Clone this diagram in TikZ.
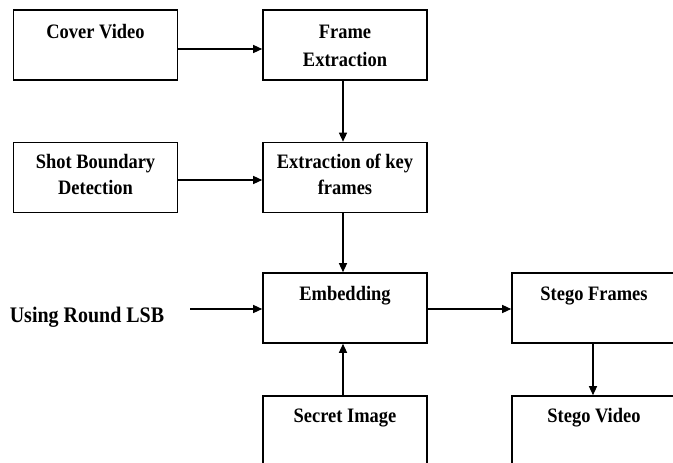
\documentclass[tikz,border=0pt]{standalone}
\usepackage{fontspec}
\setmainfont{Liberation Serif}[FakeStretch=0.9]
\usetikzlibrary{arrows.meta}
\begin{document}
\begin{tikzpicture}[x=1pt,y=-1pt,
  box/.style={draw, line width=1.6pt, minimum width=164pt, minimum height=70pt, inner sep=0pt},
  lbl/.style={anchor=base, inner sep=0pt, font=\fontsize{20.5}{28}\selectfont\bfseries},
  biglbl/.style={anchor=base, inner sep=0pt, font=\fontsize{22.2}{28}\selectfont\bfseries},
  conn/.style={line width=1.3pt, -{Triangle[length=9pt,width=8pt]}}]
\useasboundingbox (0,0) rectangle (673,463);
\fill[white] (0,0) rectangle (673,463);
\clip (0,0) rectangle (673,463);
% boxes
\node[box] (cv)  at (95.5,45)    {};
\node[box] (fe)  at (345,45)     {};
\node[box] (sb)  at (95.5,177.5) {};
\node[box] (ek)  at (345,177.5)  {};
\node[box] (emb) at (345,308)    {};
\node[box] (sf)  at (594,308)    {};
\node[box] (si)  at (345,431)    {};
\node[box] (sv)  at (594,431)    {};
% texts
\node[lbl] (cvt)  at (95.5,38.3)  {Cover Video};
\node[lbl] (fet1) at (345,38.3)   {Frame};
\node[lbl] (fet2) at (345,66.7)   {Extraction};
\node[lbl] (sbt1) at (95.5,168.3) {Shot Boundary};
\node[lbl] (sbt2) at (95.5,194)   {Detection};
\node[lbl] (ekt1) at (345,168.3)  {Extraction of key};
\node[lbl] (ekt2) at (345,194)    {frames};
\node[lbl] (embt) at (345,300)    {Embedding};
\node[lbl] (sft)  at (594,300)    {Stego Frames};
\node[lbl] (sit)  at (345,422.7)  {Secret Image};
\node[lbl] (svt)  at (594,422.7)  {Stego Video};
\node[biglbl] (lsb) at (87,322.3) {Using Round LSB};
\coordinate (lsbin) at (190,309);
% connectors
\draw[conn] ([yshift=-4pt]cv.east) -- ([yshift=-4pt]fe.west);
\draw[conn] ([xshift=-2pt]fe.south) -- ([xshift=-2pt]ek.north);
\draw[conn] ([yshift=-2.5pt]sb.east) -- ([yshift=-2.5pt]ek.west);
\draw[conn] ([xshift=-2pt]ek.south) -- ([xshift=-2pt]emb.north);
\draw[conn] (lsbin) -- (lsbin -| emb.west);
\draw[conn] ([yshift=-1pt]emb.east) -- ([yshift=-1pt]sf.west);
\draw[conn] ([xshift=-2pt]si.north) -- ([xshift=-2pt]emb.south);
\draw[conn] ([xshift=-1pt]sf.south) -- ([xshift=-1pt]sv.north);
\end{tikzpicture}
\end{document}
